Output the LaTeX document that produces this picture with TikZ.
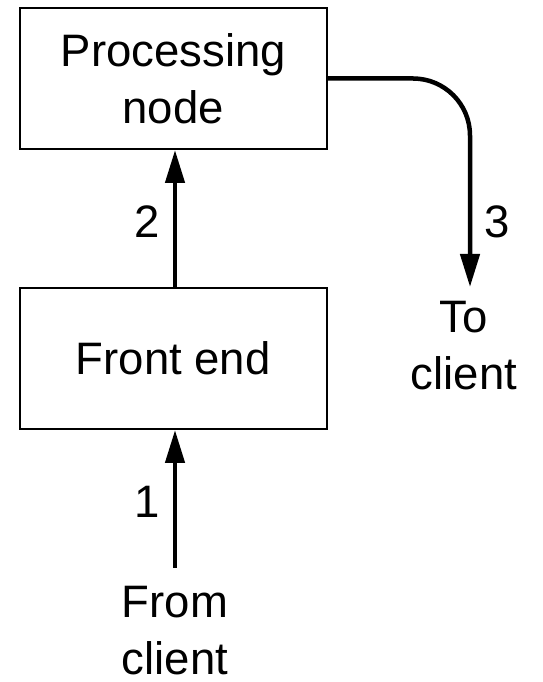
\documentclass[tikz,border=0pt]{standalone}
\usepackage{fontspec}
\setmainfont{Liberation Sans}
\usetikzlibrary{arrows.meta}
\begin{document}
\begin{tikzpicture}[x=1pt,y=1pt,
  txt/.style={font=\fontsize{45.5}{57}\selectfont, align=center, inner sep=0pt},
  box/.style={txt, draw, line width=2pt, minimum width=307pt, minimum height=141pt},
  flow/.style={line width=4.5pt, -{Triangle[length=33pt,width=19pt]}}
]
\useasboundingbox (0,0) rectangle (542,682);
\node[box] (pn) at (173.25,603.5) {Processing\\node};
\node[box] (fe) at (173.25,323.5) {Front end};
\node[txt, anchor=base] (fc) at (175,7) {From\\client};
\node[txt, anchor=base] (tc) at (464,292) {To\\client};
\node[txt] (l1) at (147,180) {1};
\node[txt] (l2) at (147,460) {2};
\node[txt] (l3) at (497,460) {3};
\coordinate (c1) at (175,114);
\coordinate (c3) at (470,395);
\draw[flow] (c1) -- (fe.south -| c1);
\draw[flow] (fe.north -| c1) -- (pn.south -| c1);
\draw[flow, rounded corners=57pt] (pn.east) -| (c3);
\end{tikzpicture}
\end{document}
